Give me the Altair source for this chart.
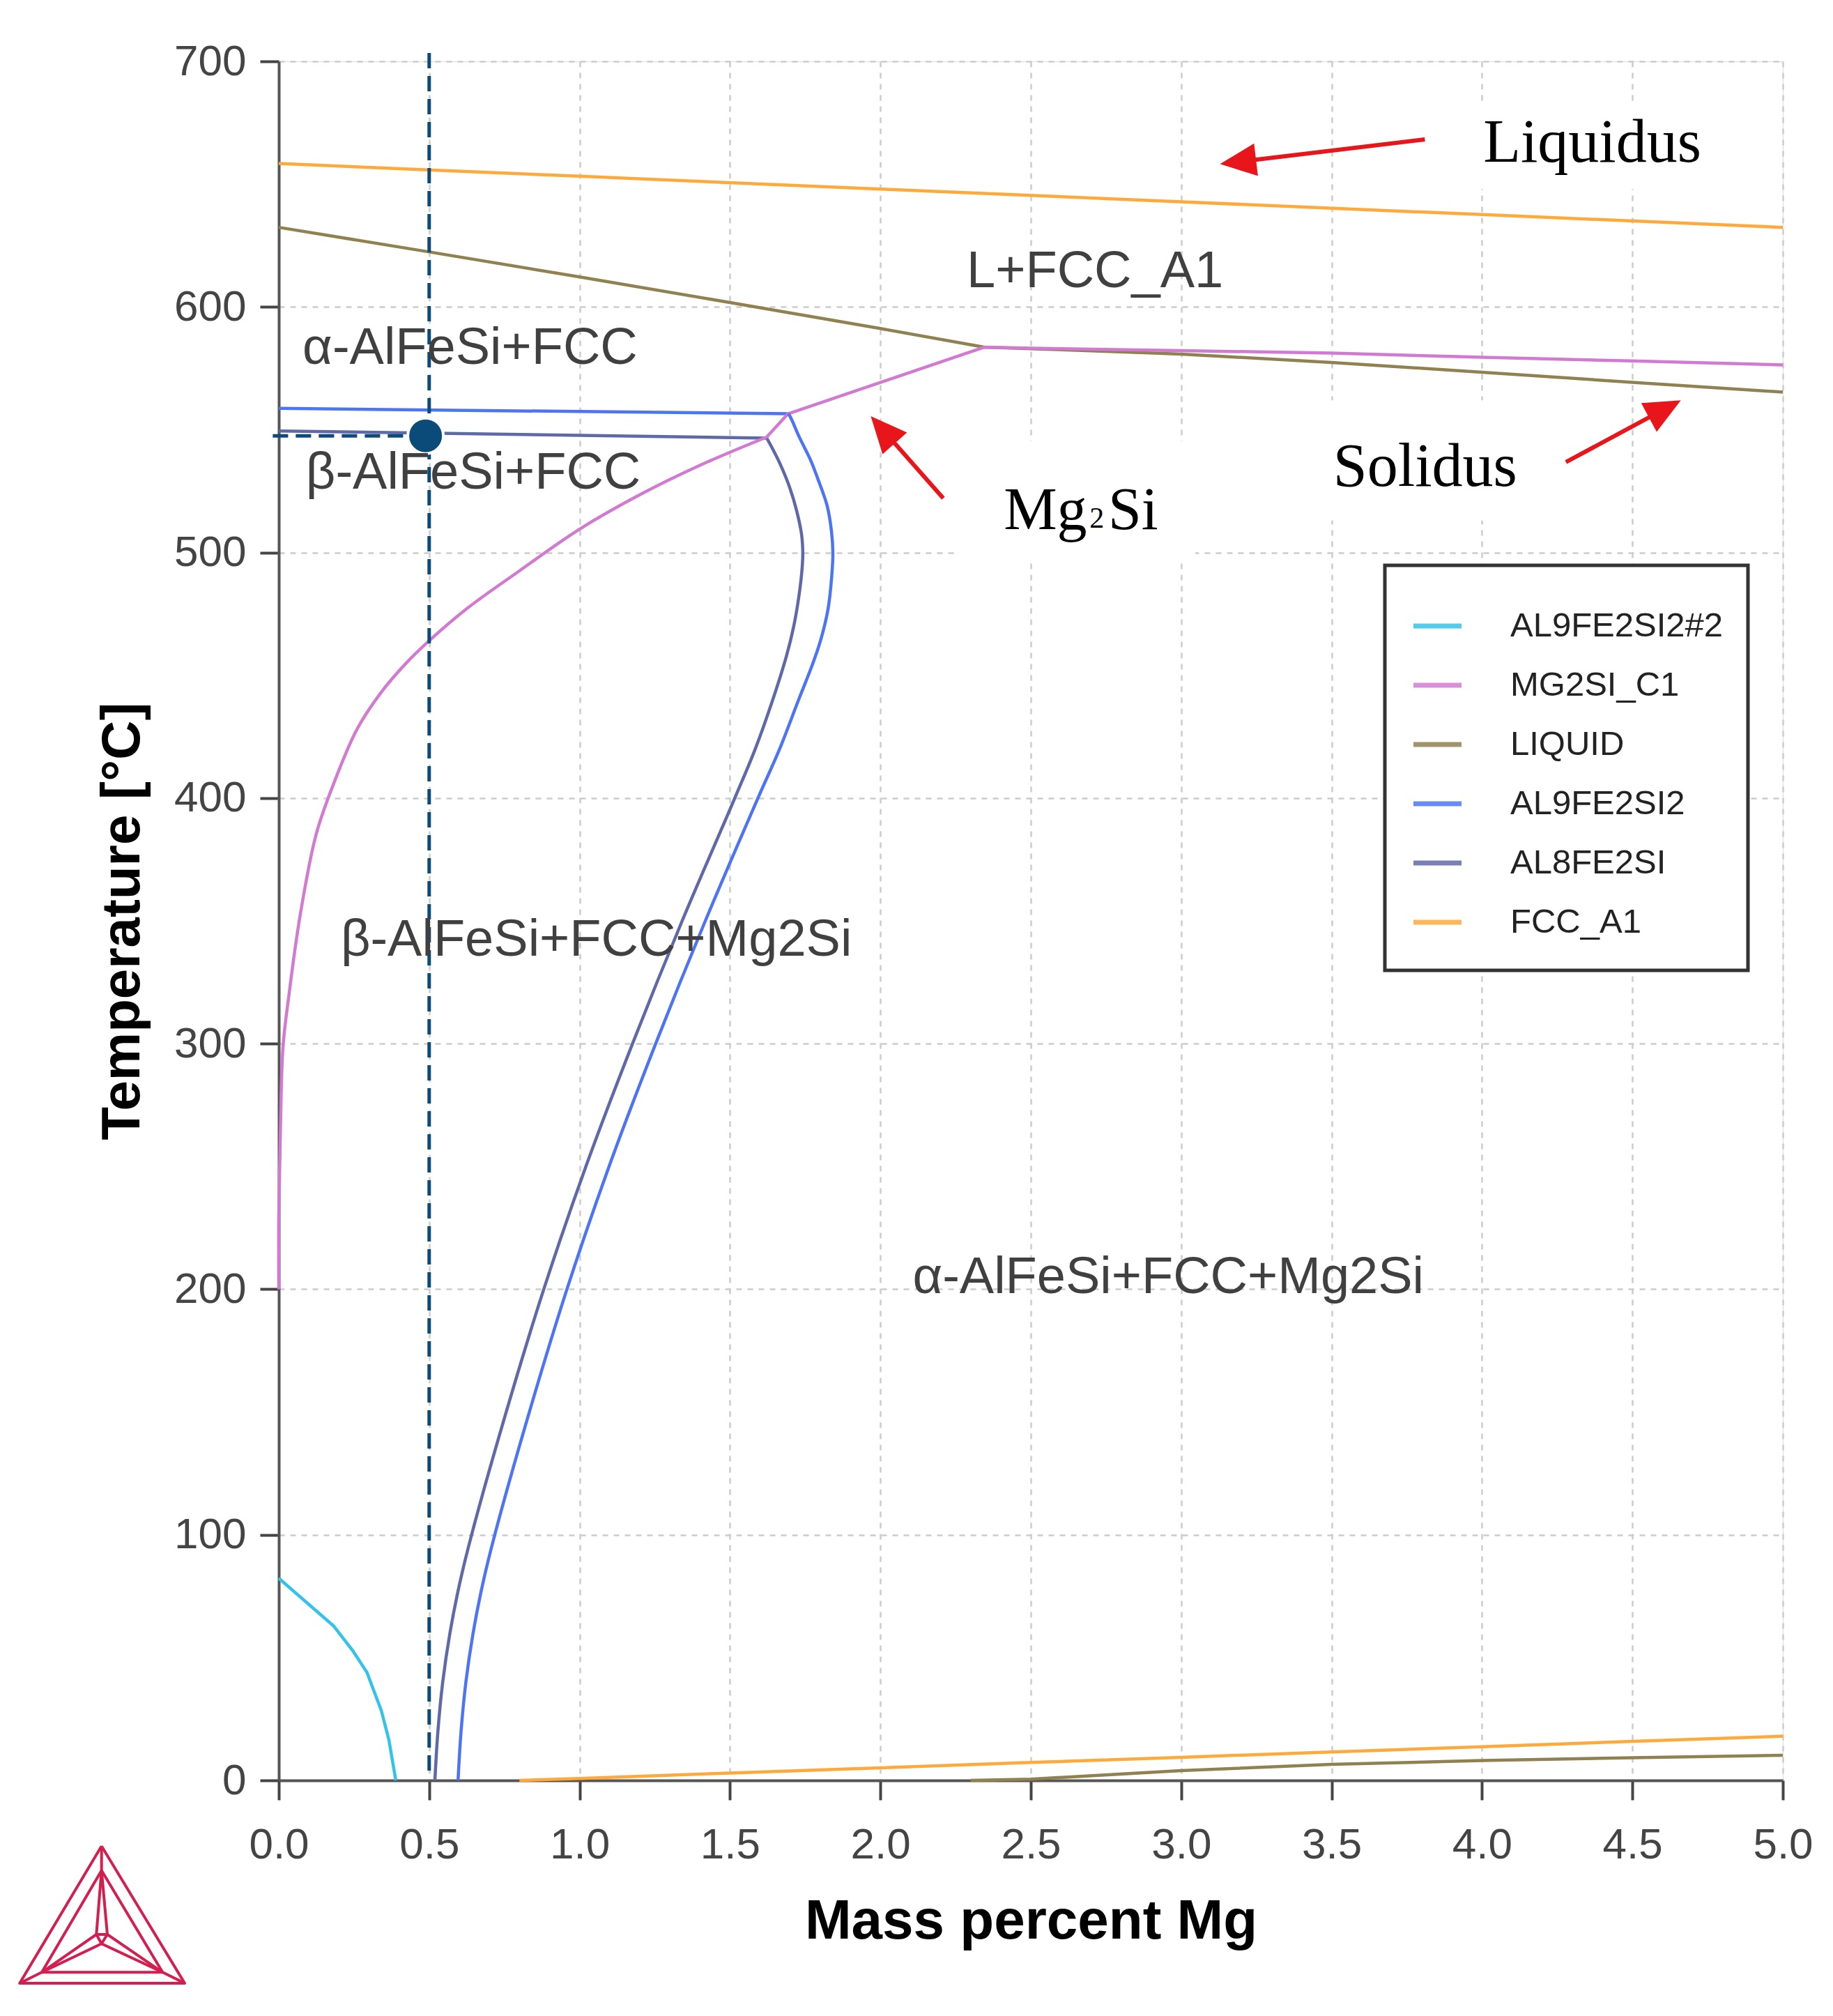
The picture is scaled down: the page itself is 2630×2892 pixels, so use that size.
import math
import altair as alt
import pandas as pd

# ---------------- data ----------------
SERIES = ["AL9FE2SI2#2", "MG2SI_C1", "LIQUID", "AL9FE2SI2", "AL8FE2SI", "FCC_A1"]
COLORS = ["#33c3ea", "#d27ad2", "#8f8150", "#4d74f5", "#5f69a8", "#ffa93a"]

cyan_x = [0.0, 0.183, 0.245, 0.293, 0.341, 0.366, 0.389]
cyan_t = [82.3, 62.8, 53.0, 44.0, 28.4, 16.5, 0.0]

# MG2SI_C1: smooth lower branch up to the AL8FE2SI corner, then straight pieces
mg2si_curve_x = [0.0, 0.0, 0.005, 0.014, 0.034, 0.072, 0.125, 0.187, 0.26, 0.34, 0.42,
                 0.495, 0.629, 0.794, 1.0, 1.2, 1.4, 1.622]
mg2si_curve_t = [200, 230, 262, 298.6, 320, 353, 385.6, 407.3, 428.0, 443.0, 454.5,
                 463.5, 477.5, 492.0, 509.5, 523.5, 535.5, 547.0]
mg2si_line_x = [1.622, 1.693, 2.345, 2.5, 3.0, 3.5, 4.0, 4.5, 5.0]
mg2si_line_t = [547.0, 556.5, 583.6, 583.2, 582.2, 581.2, 579.5, 578.0, 576.4]

liq_top_x = [0.0, 0.5, 1.0, 1.5, 2.0, 2.345, 2.5, 3.0, 3.5, 4.0, 4.5, 5.0]
liq_top_t = [632.4, 622.4, 612.2, 601.8, 591.2, 583.6, 583.0, 580.8, 577.4, 573.4, 569.3, 565.3]
liq_bot_x = [2.3, 2.5, 3.0, 3.5, 4.0, 4.5, 5.0]
liq_bot_t = [0.0, 0.5, 4.0, 6.5, 8.1, 9.2, 10.2]

al9_flat_x = [0.0, 1.693]
al9_flat_t = [558.7, 556.5]
al9_curve_x = [1.693, 1.699, 1.730, 1.768, 1.792, 1.823, 1.837, 1.842, 1.838, 1.826, 1.803,
               1.776, 1.728, 1.665, 1.593, 1.418, 1.253, 1.098, 0.958, 0.833, 0.718, 0.678,
               0.646, 0.622, 0.606, 0.596]
al9_curve_t = [556.5, 555.6, 547.1, 537.6, 530.0, 519.0, 509.0, 500.0, 490.0, 477.0, 465.0,
               455.0, 440.0, 420.0, 400.0, 350.0, 300.0, 250.0, 200.0, 150.0, 100.0, 80.0,
               60.0, 40.0, 20.0, 0.0]

al8_flat_x = [0.0, 1.622]
al8_flat_t = [549.5, 546.6]
al8_curve_x = [1.622, 1.637, 1.668, 1.699, 1.722, 1.738, 1.742, 1.740, 1.730, 1.712, 1.688,
               1.642, 1.584, 1.516, 1.341, 1.176, 1.021, 0.881, 0.756, 0.641, 0.601,
               0.569, 0.545, 0.529, 0.519]
al8_curve_t = [546.6, 543.3, 535.7, 526.3, 516.8, 507.3, 500.0, 494.0, 483.0, 470.0, 458.0,
               440.0, 420.0, 400.0, 350.0, 300.0, 250.0, 200.0, 150.0, 100.0, 80.0,
               60.0, 40.0, 20.0, 0.0]

fcc_top_x = [0.0, 1.0, 2.0, 3.0, 4.0, 5.0]
fcc_top_t = [658.4, 653.2, 648.0, 642.8, 637.6, 632.4]
fcc_bot_x = [0.8, 1.0, 1.5, 2.0, 2.5, 3.0, 3.5, 4.0, 4.5, 5.0]
fcc_bot_t = [0.0, 0.8, 3.0, 5.1, 7.3, 9.4, 11.6, 13.7, 15.9, 18.0]

X_TICKS = [0.0, 0.5, 1.0, 1.5, 2.0, 2.5, 3.0, 3.5, 4.0, 4.5, 5.0]
T_TICKS = [0, 100, 200, 300, 400, 500, 600, 700]

REGION_LABELS = ["α-AlFeSi+FCC", "β-AlFeSi+FCC", "L+FCC_A1",
                 "β-AlFeSi+FCC+Mg2Si", "α-AlFeSi+FCC+Mg2Si"]
REGION_X = [0.079, 0.090, 2.287, 0.206, 2.107]
REGION_T = [576.7, 525.9, 608.0, 335.9, 198.4]

NOTE_TEXT = ["Liquidus", "Solidus", "Mg", "2", "Si"]
NOTE_X = [4.004, 3.505, 2.410, 2.695, 2.757]
NOTE_T = [659.0, 527.0, 509.5, 510.2, 509.5]
NOTE_SIZE = [88, 88, 86, 42, 86]

ARROW_TAIL_X = [3.810, 2.209, 4.279]
ARROW_TAIL_T = [668.2, 522.1, 536.8]
ARROW_TIP_X = [3.129, 1.968, 4.661]
ARROW_TIP_T = [658.2, 555.5, 562.0]

BOX_X = [2.259, 3.45, 3.96]
BOX_X2 = [3.047, 4.10, 4.85]
BOX_T = [495.6, 513.0, 648.0]
BOX_T2 = [545.3, 562.0, 682.0]

MARK_X = 0.488
MARK_T = 547.5
ALLOY_X = 0.5

# ---------------- layout ----------------
W, H = 2158, 2466
PLOT_LEFT, PLOT_TOP = 400, 88
PX_X = W / 5.0
PX_T = H / 700.0

def page_to_data(px, py):
    return (px - PLOT_LEFT) / PX_X, 700.0 - (py - PLOT_TOP) / PX_T

xs = alt.Scale(domain=[0, 5], nice=False, zero=False)
ys = alt.Scale(domain=[0, 700], nice=False, zero=False)
cs = alt.Scale(domain=SERIES, range=COLORS)

XT = "Mass percent Mg"
YT = "Temperature [°C]"
XAX = alt.Axis(values=X_TICKS, format=".1f", labelFontSize=62, labelColor="#444",
               labelFont="Liberation Sans", labelPadding=34, labelFlush=False,
               labelOverlap=False, tickSize=28, tickWidth=4, tickColor="#444",
               domainColor="#555", domainWidth=4, grid=True, gridColor="#cccccc",
               gridDash=[8, 8], gridWidth=2.5, titleFontSize=80, titleFont="Liberation Sans",
               titleFontWeight="bold", titleColor="black", titleBaseline="alphabetic",
               titleX=W / 2, titleY=226, titleAlign="center")
YAX = alt.Axis(values=T_TICKS, format="d", labelFontSize=62, labelColor="#444",
               labelFont="Liberation Sans", labelPadding=20, labelOverlap=False,
               tickSize=27, tickWidth=4, tickColor="#444",
               domainColor="#555", domainWidth=4, grid=True, gridColor="#cccccc",
               gridDash=[8, 8], gridWidth=2.5, titleFontSize=78, titleFont="Liberation Sans",
               titleFontWeight="bold", titleColor="black", titleBaseline="alphabetic",
               titleAngle=270, titleX=-201, titleY=H / 2, titleAlign="center")

def X(f="x"):
    return alt.X(f + ":Q", scale=xs, axis=XAX, title=XT)

def Y(f="t"):
    return alt.Y(f + ":Q", scale=ys, axis=YAX, title=YT)

# ---------------- curves ----------------
straight_defs = [
    ("AL9FE2SI2#2", "c1", cyan_x, cyan_t),
    ("LIQUID", "l1", liq_top_x, liq_top_t),
    ("LIQUID", "l2", liq_bot_x, liq_bot_t),
    ("FCC_A1", "f1", fcc_top_x, fcc_top_t),
    ("FCC_A1", "f2", fcc_bot_x, fcc_bot_t),
    ("AL8FE2SI", "a8f", al8_flat_x, al8_flat_t),
    ("AL9FE2SI2", "a9f", al9_flat_x, al9_flat_t),
    ("MG2SI_C1", "m2", mg2si_line_x, mg2si_line_t),
]
smooth_defs = [
    ("AL8FE2SI", "a8c", al8_curve_x, al8_curve_t),
    ("AL9FE2SI2", "a9c", al9_curve_x, al9_curve_t),
    ("MG2SI_C1", "m1", mg2si_curve_x, mg2si_curve_t),
]

def to_frame(defs):
    rows = []
    for s, seg, xv, tv in defs:
        for i, (a, b) in enumerate(zip(xv, tv)):
            rows.append({"series": s, "seg": seg, "i": i, "x": a, "t": b})
    return pd.DataFrame(rows)

lines_straight = alt.Chart(to_frame(straight_defs)).mark_line(
    strokeWidth=4.5, strokeJoin="round").encode(
    x=X(), y=Y(),
    color=alt.Color("series:N", scale=cs, legend=None),
    detail="seg:N", order="i:Q")
lines_smooth = alt.Chart(to_frame(smooth_defs)).mark_line(
    strokeWidth=4.5, interpolate="catmull-rom").encode(
    x=X(), y=Y(),
    color=alt.Color("series:N", scale=cs, legend=None),
    detail="seg:N", order="i:Q")

# white boxes behind the serif annotations
boxes = alt.Chart(pd.DataFrame({"x": BOX_X, "x2": BOX_X2, "t": BOX_T, "t2": BOX_T2})).mark_rect(
    color="white").encode(x=X(), x2="x2:Q", y=Y(), y2="t2:Q")

# dashed guide lines and the alloy point
NAVY = "#0b4b7a"
vguide = alt.Chart(pd.DataFrame({"x": [ALLOY_X], "t": [4.0], "t2": [705.0]})).mark_rule(
    color=NAVY, strokeWidth=5, strokeDash=[22, 11]).encode(x=X(), y=Y(), y2="t2:Q")
hguide = alt.Chart(pd.DataFrame({"x": [-0.02], "x2": [MARK_X], "t": [MARK_T]})).mark_rule(
    color=NAVY, strokeWidth=5, strokeDash=[22, 11]).encode(x=X(), x2="x2:Q", y=Y())
dot = alt.Chart(pd.DataFrame({"x": [MARK_X], "t": [MARK_T]})).mark_circle(
    size=2600, fill=NAVY, stroke="white", strokeWidth=4, opacity=1).encode(x=X(), y=Y())

# region labels
regions = alt.Chart(pd.DataFrame({"label": REGION_LABELS, "x": REGION_X, "t": REGION_T})).mark_text(
    align="left", baseline="alphabetic", font="Liberation Sans", fontSize=74, color="#404040"
).encode(x=X(), y=Y(), text="label:N")

# serif annotations
notes = alt.Chart(pd.DataFrame({"label": NOTE_TEXT, "x": NOTE_X, "t": NOTE_T, "s": NOTE_SIZE})).mark_text(
    align="left", baseline="alphabetic", font="Liberation Serif", color="black"
).encode(x=X(), y=Y(), text="label:N", size=alt.Size("s:Q", scale=None, legend=None))

# red arrows
arows = []
for tx, tt, hx, ht in zip(ARROW_TAIL_X, ARROW_TAIL_T, ARROW_TIP_X, ARROW_TIP_T):
    dxp = (hx - tx) * PX_X
    dyp = -(ht - tt) * PX_T
    L = math.hypot(dxp, dyp)
    ux, uy = dxp / L, dyp / L
    cx = hx - 26 * ux / PX_X
    ct = ht + 26 * uy / PX_T
    sx = hx - 40 * ux / PX_X
    st = ht + 40 * uy / PX_T
    ang = math.degrees(math.atan2(ux, -uy)) % 360
    arows.append({"x": tx, "t": tt, "x2": sx, "t2": st, "hx": cx, "ht": ct, "ang": ang})
arr = pd.DataFrame(arows)
RED = "#e8161b"
shafts = alt.Chart(arr).mark_rule(color=RED, strokeWidth=6).encode(
    x=X(), y=Y(), x2="x2:Q", y2="t2:Q")
heads = alt.Chart(arr).mark_point(
    shape="M0,-1L0.9,1L-0.9,1Z", filled=True, size=2704, color=RED, opacity=1
).encode(x=X("hx"), y=Y("ht"), angle=alt.Angle("ang:Q", scale=None))

# legend (drawn inside the plot as in the reference)
lb_x0, lb_t1 = page_to_data(1987, 811)
lb_x1, lb_t0 = page_to_data(2508, 1392)
legend_box = alt.Chart(pd.DataFrame({"x": [lb_x0], "x2": [lb_x1], "t": [lb_t0], "t2": [lb_t1]})).mark_rect(
    fill="white", stroke="#333", strokeWidth=5).encode(x=X(), x2="x2:Q", y=Y(), y2="t2:Q")
sym_x0, _ = page_to_data(2028, 0)
sym_x1, _ = page_to_data(2097, 0)
lab_x, _ = page_to_data(2167, 0)
leg_rows = []
for k, s in enumerate(SERIES):
    _, tk = page_to_data(0, 898 + 85 * k)
    leg_rows.append({"series": s, "x": sym_x0, "x2": sym_x1, "lx": lab_x, "t": tk})
leg = pd.DataFrame(leg_rows)
legend_sym = alt.Chart(leg).mark_rule(strokeWidth=7, opacity=0.85).encode(
    x=X(), x2="x2:Q", y=Y(), color=alt.Color("series:N", scale=cs, legend=None))
legend_lab = alt.Chart(leg).mark_text(
    align="left", baseline="middle", font="Liberation Sans", fontSize=49, color="#222"
).encode(x=X("lx"), y=Y(), text="series:N")

# Thermo-Calc style logo (bottom left, outside the plot)
P = {"A": (145.7, 2648.3), "B": (28.3, 2845.0), "C": (265.0, 2845.0),
     "a": (145.7, 2683.3), "b": (60.0, 2829.3), "c": (233.3, 2829.3),
     "p": (138.3, 2775.0), "q": (154.0, 2775.0), "r": (145.7, 2788.3)}
LOGO_SEGS = ["ABCA", "abca", "Aa", "Bb", "Cc", "ap", "aq", "bp", "br", "cq", "cr", "pqrp"]
lrows = []
for n, sname in enumerate(LOGO_SEGS):
    for i, ch in enumerate(sname):
        gx, gt = page_to_data(*P[ch])
        lrows.append({"seg": n, "i": i, "x": gx, "t": gt})
logo = alt.Chart(pd.DataFrame(lrows)).mark_line(
    color="#d31f50", strokeWidth=4, strokeJoin="round").encode(
    x=X(), y=Y(), detail="seg:N", order="i:Q")

chart = alt.layer(
    boxes, lines_straight, lines_smooth, vguide, hguide, dot, regions, legend_box,
    legend_sym, legend_lab, shafts, heads, notes, logo
).properties(
    width=W, height=H,
    autosize=alt.AutoSizeParams(type="none"),
    padding={"left": 392, "top": 80, "right": 64, "bottom": 330},
    background="white",
).configure_view(stroke="#555", strokeWidth=4).configure(font="Liberation Sans")

chart.save("out.html", embed_options={"renderer": "svg", "actions": False})
